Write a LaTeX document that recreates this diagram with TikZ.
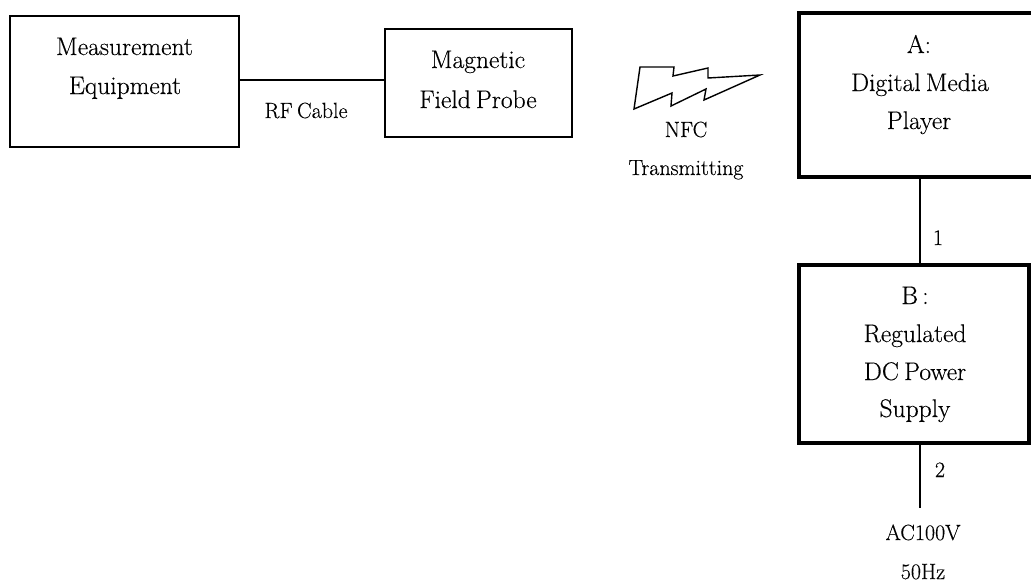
\documentclass[tikz,border=0pt]{standalone}
\usepackage{fontspec}
\setmainfont{Latin Modern Roman}[FakeBold=0.3]
\newcommand{\wsp}{\hspace{0.2em}}
\tikzset{x=1pt,y=-1pt,
 boxthin/.style={draw=black,line width=1.8pt,fill=none,inner sep=0pt},
 boxthick/.style={draw=black,line width=4pt,fill=none,inner sep=0pt},
 wire/.style={draw=black,line width=1.4pt},
 lab/.style={inner sep=0pt,anchor=base,font=\fontsize{25.5}{28}\selectfont},
 smalllab/.style={inner sep=0pt,anchor=base,font=\fontsize{22}{25}\selectfont}}
\begin{document}
\begin{tikzpicture}
\useasboundingbox (0,0) rectangle (1031,584);
\node[boxthin,minimum width=229pt,minimum height=131pt] (meas) at (124.5,81.5) {};
\node[boxthin,minimum width=187pt,minimum height=108pt] (probe) at (478.5,83) {};
\node[boxthick,minimum width=240pt,minimum height=164pt] (play) at (919,95) {};
\node[boxthick,minimum width=230pt,minimum height=178pt] (supply) at (914,354) {};
\node[lab] (t1) at (124.5,55) {Measurement};
\node[lab] (t2) at (125,94) {Equipment};
\node[lab] (t3) at (478,68) {Magnetic};
\node[lab] (t4) at (478,108) {Field\wsp Probe};
\node[lab] (t5) at (919,53) {A:};
\node[lab] (t6) at (920,91) {Digital\wsp Media};
\node[lab] (t7) at (919,129) {Player};
\node[lab] (t8) at (915,304) {B\,:};
\node[lab] (t9) at (915,342) {Regulated};
\node[lab] (t10) at (915,380) {DC\wsp Power};
\node[lab] (t11) at (915,417) {Supply};
\node[smalllab] (rf) at (306,118) {RF\wsp Cable};
\node[smalllab] (nfc) at (686,137) {NFC};
\node[smalllab] (tx) at (686,175) {Transmitting};
\node[smalllab] (one) at (938,245) {1};
\node[smalllab] (two) at (940,477) {2};
\node[smalllab] (ac) at (923,540) {AC100V};
\node[smalllab] (hz) at (923,579) {50Hz};
\coordinate (wx) at (920,0);
\coordinate (wy) at (0,80);
\coordinate (acend) at (920,508);
\draw[wire] (meas.east |- wy) -- (probe.west |- wy);
\draw[wire] (wx |- play.south) -- (wx |- supply.north);
\draw[wire] (wx |- supply.south) -- (acend);
\draw[line width=1.4pt,line join=miter,miter limit=10] (640,67) -- (674,67) -- (673,76) -- (708,68) -- (708,78) -- (760,75) -- (704,100) -- (706,89) -- (671,106) -- (672,93) -- (634,109) -- cycle;
\end{tikzpicture}
\end{document}
